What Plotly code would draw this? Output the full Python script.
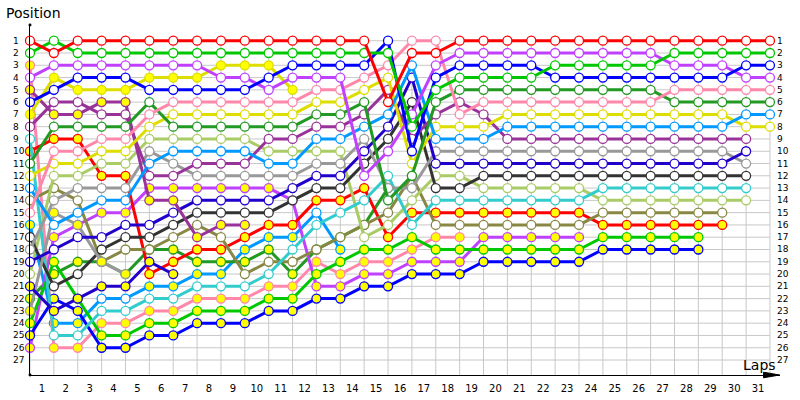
import plotly.graph_objects as go

N = None
laps = list(range(32))
lap_labels = [str(k) for k in range(1, 32)]
positions = list(range(1, 28))

# positions per lap (lap 0 = grid); fill strings: 'Y' = yellow marker, 'o' = open marker
red_pos = [1,2,1,1,1,1,1,1,1,1,1,1,1,1,1,6,2,2,1,1,1,1,1,1,1,1,1,1,1,1,1,1]
green_pos = [2,1,2,2,2,2,2,2,2,2,2,2,2,2,2,2,8,5,4,4,4,4,3,3,3,3,3,2,2,2,2,2]
blue_pos = [6,5,4,4,4,5,5,5,5,5,4,3,3,3,3,1,10,4,3,3,3,3,4,4,4,4,4,4,4,4,3,3]
magenta_pos = [4,3,3,3,3,3,3,3,4,4,5,4,4,4,12,10,7,3,2,2,2,2,2,2,2,2,2,3,3,3,4,4]
pink_pos = [15,10,10,9,9,7,6,6,6,6,6,6,5,5,4,3,1,1,7,6,6,6,6,6,6,6,6,5,5,5,5,5]
dkgreen_pos = [11,8,8,8,8,6,8,8,8,8,8,8,7,7,6,14,12,6,5,5,5,5,5,5,5,5,5,6,6,6,6,6]
ltblue_pos = [13,16,15,14,14,11,10,10,10,10,11,11,9,9,8,7,3,9,9,9,8,8,8,8,8,8,8,8,8,8,7,7]
yellow_pos = [12,11,11,10,10,8,7,7,7,7,7,7,6,6,5,4,11,8,8,8,7,7,7,7,7,7,7,7,7,7,8,8]
yellow2_pos = [7,4,5,5,5,4,4,4,3,3,3,5,N,N,N,N,N,N,N,N,N,N,N,N,N,N,N,N,N,N,N,N]
purple_pos = [8,6,6,7,7,12,12,11,11,11,9,9,8,8,7,5,9,7,6,7,9,9,9,9,9,9,9,9,9,9,9,N]
purple2_pos = [5,7,7,6,6,14,14,17,16,16,N,N,N,N,N,N,N,N,N,N,N,N,N,N,N,N,N,N,N,N,N,N]
navy_pos = [19,18,17,17,16,16,15,14,14,14,14,13,12,12,10,8,4,11,11,11,11,11,11,11,11,11,11,11,11,11,10,N]
navy2_pos = [21,23,22,21,21,19,20,N,N,N,N,N,N,N,N,N,N,N,N,N,N,N,N,N,N,N,N,N,N,N,N,N]
gray_pos = [18,14,13,13,13,10,11,12,12,12,12,12,11,11,9,13,13,10,10,10,10,10,10,10,10,10,10,10,10,10,11,N]
gray2_pos = [23,15,16,19,20,N,N,N,N,N,N,N,N,N,N,N,N,N,N,N,N,N,N,N,N,N,N,N,N,N,N,N]
dkgray_pos = [17,21,20,18,17,17,16,15,15,15,15,14,13,13,11,9,6,13,13,12,12,12,12,12,12,12,12,12,12,12,12,N]
cyan_pos = [9,25,25,23,23,22,22,21,21,21,20,18,16,15,14,12,16,14,14,14,14,14,14,14,13,13,13,13,13,13,13,N]
ltolive_pos = [20,12,12,11,11,9,9,9,9,9,10,10,10,10,17,16,14,12,12,13,13,13,13,13,14,14,14,14,14,14,14,N]
olive_pos = [14,13,14,19,18,18,17,16,17,20,19,19,18,17,16,15,12,16,16,16,16,16,16,16,15,15,15,15,15,15,N,N]
red2_pos = [10,9,9,12,12,20,19,18,18,17,16,16,14,14,13,17,15,15,15,15,15,15,15,15,16,16,16,16,16,16,N,N]
green2_pos = [24,19,22,25,25,24,24,23,23,23,22,22,20,19,18,18,17,18,18,18,18,18,18,18,17,17,17,17,17,N,N,N]
blue2_pos = [25,22,23,26,26,25,25,24,24,24,23,23,22,22,21,21,20,20,20,19,19,19,19,19,18,18,18,18,18,N,N,N]
magenta2_pos = [26,17,16,15,15,13,13,13,13,13,13,14,21,21,20,20,19,19,19,17,17,17,17,17,N,N,N,N,N,N,N,N]
pink2_pos = [3,26,26,24,24,23,23,22,22,22,21,21,19,20,19,19,18,17,17,N,N,N,N,N,N,N,N,N,N,N,N,N]
dkgreen2_pos = [22,20,19,19,20,18,18,19,19,19,18,20,18,17,16,13,N,N,N,N,N,N,N,N,N,N,N,N,N,N,N,N]
ltblue2_pos = [16,24,24,22,22,21,21,20,20,18,17,17,15,18,N,N,N,N,N,N,N,N,N,N,N,N,N,N,N,N,N,N]

open_fill = "o" * 32
yellow_fill = "Y" * 32
ltblue2_fill = "YYYooYYYYYYYoY" + "Y" * 18

drivers = [
    ("#ff0000", red_pos, open_fill),
    ("#00c800", green_pos, open_fill),
    ("#0000ff", blue_pos, open_fill),
    ("#c040ff", magenta_pos, open_fill),
    ("#ff88aa", pink_pos, open_fill),
    ("#229922", dkgreen_pos, open_fill),
    ("#0099ff", ltblue_pos, open_fill),
    ("#dddd00", yellow_pos, open_fill),
    ("#dddd00", yellow2_pos, yellow_fill),
    ("#993399", purple_pos, open_fill),
    ("#993399", purple2_pos, yellow_fill),
    ("#2200cc", navy_pos, open_fill),
    ("#2200cc", navy2_pos, yellow_fill),
    ("#999999", gray_pos, open_fill),
    ("#999999", gray2_pos, yellow_fill),
    ("#333333", dkgray_pos, open_fill),
    ("#33cccc", cyan_pos, open_fill),
    ("#aacc66", ltolive_pos, open_fill),
    ("#888844", olive_pos, open_fill),
    ("#ff0000", red2_pos, yellow_fill),
    ("#00c800", green2_pos, yellow_fill),
    ("#0000ff", blue2_pos, yellow_fill),
    ("#c040ff", magenta2_pos, yellow_fill),
    ("#ff88aa", pink2_pos, yellow_fill),
    ("#229922", dkgreen2_pos, yellow_fill),
    ("#0099ff", ltblue2_pos, ltblue2_fill),
]

fig = go.Figure()
for color, pos, fill in reversed(drivers):
    xs = [l for l, p in zip(laps, pos) if p is not None]
    ys = [p for p in pos if p is not None]
    fc = ["#ffff00" if f == "Y" else "#ffffff" for f, p in zip(fill, pos) if p is not None]
    fig.add_trace(go.Scatter(
        x=xs, y=ys, mode="lines+markers",
        line=dict(color=color, width=3),
        marker=dict(size=9, color=fc, line=dict(color=color, width=1.3)),
        cliponaxis=False, showlegend=False, hoverinfo="skip"))

XMAX = 31.42
YTOP, YBOT = -0.28, 28.22
shapes = []
for k in laps:
    shapes.append(dict(type="line", xref="x", yref="y", x0=k, x1=k, y0=1, y1=YBOT,
                       line=dict(color="#c8c8c8", width=1), layer="below"))
for p in positions:
    shapes.append(dict(type="line", xref="x", yref="y", x0=0, x1=31, y0=p, y1=p,
                       line=dict(color="#c8c8c8", width=1), layer="below"))
# arrow head at the end of the x axis and dots at the axis ends
shapes.append(dict(type="path", xref="paper", yref="paper",
                   path="M 0.978 -0.008 L 0.9995 0 L 0.978 0.008 Z",
                   fillcolor="black", line=dict(color="black", width=1)))
shapes.append(dict(type="circle", xref="paper", yref="paper", x0=-0.002, x1=0.002,
                   y0=0.996, y1=1.004, fillcolor="black", line=dict(color="black", width=0)))
shapes.append(dict(type="circle", xref="paper", yref="paper", x0=-0.002, x1=0.002,
                   y0=-0.004, y1=0.004, fillcolor="black", line=dict(color="black", width=0)))

ann = []
for p in positions:
    ann.append(dict(x=-0.0253, xref="paper", y=p, yref="y", text=str(p), showarrow=False,
                    xanchor="left", yanchor="middle", font=dict(size=9, family="DejaVu Sans", color="black")))
    ann.append(dict(x=0.9935, xref="paper", y=p, yref="y", text=str(p), showarrow=False,
                    xanchor="left", yanchor="middle", font=dict(size=9, family="DejaVu Sans", color="black")))
ann.append(dict(x=-0.035, xref="paper", y=1.062, yref="paper", text="Position", showarrow=False,
                xanchor="left", yanchor="top", font=dict(size=14, family="DejaVu Sans", color="black")))
ann.append(dict(x=0.972, xref="paper", y=0.0, yref="paper", text="Laps", showarrow=False,
                xanchor="center", yanchor="bottom", font=dict(size=14, family="DejaVu Sans", color="black")))

fig.update_layout(
    template="none",
    width=800, height=400,
    margin=dict(l=30, r=20, t=25, b=25, autoexpand=False),
    paper_bgcolor="white", plot_bgcolor="white",
    xaxis=dict(range=[0, XMAX], showgrid=False, zeroline=False, showline=True, automargin=False,
               linecolor="black", linewidth=1,
               tickvals=[k - 0.5 for k in range(1, 32)], ticktext=lap_labels,
               ticks="outside", ticklen=4, tickcolor="rgba(0,0,0,0)",
               tickfont=dict(size=10, family="DejaVu Sans", color="black")),
    yaxis=dict(range=[YBOT, YTOP], showgrid=False, zeroline=False, showline=True, automargin=False,
               linecolor="black", linewidth=1, showticklabels=False, ticks=""),
    shapes=shapes, annotations=ann,
)
fig.write_html("out.html", config={"displayModeBar": False},
               post_script="document.body.style.margin='0px';")
